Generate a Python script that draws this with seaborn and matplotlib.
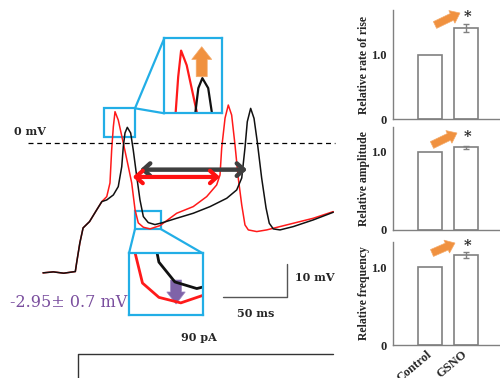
import matplotlib
matplotlib.use("Agg")
import matplotlib.pyplot as plt
from matplotlib.patches import ConnectionPatch, Rectangle, FancyArrow
import seaborn as sns
import pandas as pd

# ---------------- membrane potential traces (time in ms, potential in mV) ----------------
# common depolarising ramp before the two recordings separate
ramp_t = [0, 8, 16, 25, 26, 28.5, 31, 36, 41.5, 45.5]
ramp_v = [-39.0, -38.7, -39.1, -38.6, -36.0, -30.0, -25.5, -23.6, -20.1, -17.6]

gsno_t = [49.3, 51.8, 53.1, 54.4, 55.7, 58.2, 62.1, 66.0, 68.6, 71.2, 73.7, 77.6, 82.8,
          90.5, 103.4, 116.2, 126.6, 134.3, 136.9, 138.2, 140.8, 143.3, 145.9, 148.5,
          151.0, 153.7, 156.2, 158.8, 165.3, 173.0, 193.6, 209.0, 224.5]
gsno_v = [-16.1, -12.0, -2.1, 4.9, 9.4, 6.9, 0.0, -7.1, -12.0, -20.1, -24.0, -25.3, -25.8,
          -24.8, -21.1, -19.1, -16.1, -12.6, -9.6, -1.5, 7.5, 11.4, 8.4, -0.6,
          -10.5, -18.6, -24.6, -26.1, -26.6, -26.1, -24.1, -22.6, -20.6]

control_t = [49.3, 54.4, 58.2, 60.9, 62.1, 63.4, 65.2, 67.8, 69.8, 72.5, 75.0, 77.6, 81.4,
             86.6, 91.8, 103.4, 116.2, 129.2, 142.1, 149.8, 153.7, 156.2, 158.0, 160.6,
             163.2, 165.7, 169.1, 172.5, 175.0, 178.1, 183.3, 193.6, 209.0, 224.5]
control_v = [-17.1, -15.6, -13.1, -7.1, -1.1, 3.0, 4.7, 3.0, -2.1, -10.1, -17.1, -22.1, -23.9,
             -24.5, -24.0, -22.6, -21.1, -19.1, -16.6, -14.1, -10.5, -1.5, 6.4, 10.4,
             7.4, 0.4, -10.5, -19.5, -24.1, -25.8, -26.1, -25.1, -23.1, -20.8]

# injected current step, drawn below the voltage traces
step_t = [27.1, 27.1, 224.5]
step_y = [-78.0, -63.4, -63.4]

# interspike intervals marked by the double arrows (ms)
isi_control = [75.0, 157.8]
isi_gsno = [69.4, 136.9]

# ---------------- normalised summary data ----------------
groups = ["Control", "GSNO"]
rise_rate = [1.0, 1.42]
rise_rate_err = [0.0, 0.06]
amplitude = [1.0, 1.06]
amplitude_err = [0.0, 0.02]
frequency = [1.0, 1.16]
frequency_err = [0.0, 0.04]

sns.set_style("white")
plt.rcParams["font.family"] = ["DejaVu Serif", "DejaVu Sans"]

CYAN = "#22AEE6"
ORANGE = "#F0913F"
PURPLE = "#7A4E9E"
GREY = "#808080"

W, H = 500, 378
fig = plt.figure(figsize=(5, 3.78), dpi=100)


def box(x0, y0, x1, y1):
    """pixel box (top-left origin) -> figure-fraction rect"""
    return [x0 / W, 1 - y1 / H, (x1 - x0) / W, (y1 - y0) / H]


traces = pd.concat([
    pd.DataFrame({"t": ramp_t + gsno_t, "v": ramp_v + gsno_v, "cond": "GSNO"}),
    pd.DataFrame({"t": ramp_t + control_t, "v": ramp_v + control_v, "cond": "Control"}),
])
palette = {"Control": "#111111", "GSNO": "#FF1A1A"}

# ---------------- main voltage panel ----------------
ax = fig.add_axes(box(0, 0, 340, 378))
ax.patch.set_alpha(0)
sns.lineplot(data=traces, x="t", y="v", hue="cond", hue_order=["GSNO", "Control"],
             palette=palette, sort=False, estimator=None, lw=1.1, legend=False, ax=ax)
ax.set_xlim(-33.26, 229.7)
ax.set_ylim(-70.57, 42.94)
ax.axis("off")

ax.hlines(0, -11.6, 225.8, colors="k", lw=0.9, linestyles=(0, (4, 3)))
ax.text(-10.1, 3.6, "0 mV", fontsize=8, fontweight="bold", ha="center", va="center")

ax.annotate("", xy=(isi_control[1], -8.0), xytext=(isi_control[0], -8.0),
            arrowprops=dict(arrowstyle="<->,head_length=0.5,head_width=0.45",
                            lw=3.2, color="#3f3f3f", shrinkA=0, shrinkB=0))
ax.annotate("", xy=(isi_gsno[1], -10.2), xytext=(isi_gsno[0], -10.2),
            arrowprops=dict(arrowstyle="<->,head_length=0.5,head_width=0.45",
                            lw=3.0, color="#FF1010", shrinkA=0, shrinkB=0))

# scale bars
ax.plot([139.0, 189.0, 189.0], [-46.3, -46.3, -36.3], color="#555555", lw=1.0)
ax.text(194.9, -40.5, "10 mV", fontsize=8, fontweight="bold", ha="left", va="center")
ax.text(164.7, -49.6, "50 ms", fontsize=8, fontweight="bold", ha="center", va="top")

# current step
ax.plot(step_t, step_y, color="#333333", lw=1.0, clip_on=True)
ax.text(120.6, -60.1, "90 pA", fontsize=8, fontweight="bold", ha="center", va="bottom")

ax.text(-25.5, -48.0, "-2.95\u00b1 0.7 mV", fontsize=11.5, color=PURPLE,
        ha="left", va="center")

# regions shown enlarged
peak_box = (47.4, 1.9, 71.15, 10.42)
trough_box = (71.15, -25.83, 91.03, -20.42)
for x0, y0, x1, y1 in (peak_box, trough_box):
    ax.add_patch(Rectangle((x0, y0), x1 - x0, y1 - y0, fill=False, ec=CYAN, lw=1.6))

# ---------------- inset: first spike peak ----------------
ins1 = fig.add_axes(box(164.3, 38.3, 222.3, 113.3))
sns.lineplot(data=traces, x="t", y="v", hue="cond", hue_order=["GSNO", "Control"],
             palette=palette, sort=False, estimator=None, lw=1.6, legend=False, ax=ins1)
ins1.set_xlim(48.2, 74.1)
ins1.set_ylim(-1.3, 11.5)
ins1.set_xticks([]); ins1.set_yticks([])
ins1.set_xlabel(""); ins1.set_ylabel("")
for s in ins1.spines.values():
    s.set_color(CYAN); s.set_linewidth(1.6)
ins1.add_patch(FancyArrow(0.645, 0.488, 0, 0.40, width=0.19, head_width=0.345,
                          head_length=0.17, length_includes_head=True,
                          transform=ins1.transAxes, fc=ORANGE, ec="#F4AA6A", lw=0.5))

# ---------------- inset: afterhyperpolarisation trough ----------------
ins2 = fig.add_axes(box(129, 253.3, 202.7, 315))
sns.lineplot(data=traces, x="t", y="v", hue="cond", hue_order=["GSNO", "Control"],
             palette=palette, sort=False, estimator=None, lw=2.0, legend=False, ax=ins2)
ins2.set_xlim(70.5, 88)
ins2.set_ylim(-26.9, -21.3)
ins2.set_xticks([]); ins2.set_yticks([])
ins2.set_xlabel(""); ins2.set_ylabel("")
for s in ins2.spines.values():
    s.set_color(CYAN); s.set_linewidth(1.6)
ins2.add_patch(FancyArrow(0.638, 0.567, 0, -0.389, width=0.15, head_width=0.25,
                          head_length=0.195, length_includes_head=True,
                          transform=ins2.transAxes, fc="#7F63A8", ec="#9C87C0", lw=0.5))

links = [
    ((peak_box[2], peak_box[3]), ins1, (0, 1)),
    ((peak_box[2], peak_box[3]), ins1, (0, 0)),
    ((trough_box[0], trough_box[1]), ins2, (0, 1)),
    ((trough_box[2], trough_box[1]), ins2, (1, 1)),
]
for xyA, target, xyB in links:
    fig.add_artist(ConnectionPatch(xyA=xyA, coordsA=ax.transData, xyB=xyB,
                                   coordsB=target.transAxes, color=CYAN, lw=1.6))

# ---------------- summary bar panels ----------------
panels = [
    (rise_rate, rise_rate_err, "Relative rate of rise", (393, 10, 500, 119), 1.70, 1.59,
     ((4.35, 3.53), (4.60, 3.65))),
    (amplitude, amplitude_err, "Relative amplitude", (393, 127, 500, 230), 1.32, 1.19,
     ((4.32, 2.33), (4.57, 2.45))),
    (frequency, frequency_err, "Relative frequency", (393, 242, 500, 345), 1.326, 1.28,
     ((4.32, 1.25), (4.55, 1.35))),
]
for i, (vals, errs, label, pbox, ytop, star_y, arrow) in enumerate(panels):
    bax = fig.add_axes(box(*pbox))
    bax.patch.set_alpha(0)
    sns.barplot(x=groups, y=vals, ax=bax, color="white", edgecolor=GREY, linewidth=1.2,
                width=0.667, errorbar=None, saturation=1)
    for j, (v, e) in enumerate(zip(vals, errs)):
        if e > 0:
            bax.errorbar(j, v, yerr=e, fmt="none", ecolor=GREY, elinewidth=1.0,
                         capsize=2.5, capthick=1.0)
    bax.set_xlim(-1.028, 1.944)
    bax.set_ylim(0, ytop)
    sns.despine(ax=bax)
    for side in ("left", "bottom"):
        bax.spines[side].set_color(GREY)
        bax.spines[side].set_linewidth(1.0)
    bax.set_yticks([0, 1.0])
    bax.set_yticklabels(["0", "1.0"], fontsize=9, fontweight="bold",
                        family=["Liberation Serif"])
    bax.tick_params(axis="y", length=3, width=0.8, color=GREY, pad=1.5)
    bax.set_ylabel(label, fontsize=8.5, fontweight="bold", family=["Liberation Serif"])
    bax.yaxis.set_label_coords(-0.215, 0.5)
    bax.set_xlabel("")
    if i == 2:
        bax.set_xticks([0, 1])
        bax.set_xticklabels(groups, rotation=40, ha="right", va="center",
                            rotation_mode="anchor", fontsize=9, fontweight="bold",
                            family=["Liberation Serif"])
        bax.tick_params(axis="x", length=0, pad=6)
    else:
        bax.set_xticks([])
    bax.text(0.93, star_y, "*", fontsize=10.5, fontweight="bold", ha="left", va="center",
             clip_on=False)
    (tx, ty), (hx, hy) = arrow
    fig.add_artist(FancyArrow(tx, ty, hx - tx, hy - ty, width=0.075, head_width=0.14,
                              head_length=0.09, length_includes_head=True,
                              transform=fig.dpi_scale_trans, fc=ORANGE, ec="#F4AA6A",
                              lw=0.5))

fig.savefig("out.png", dpi=100)
